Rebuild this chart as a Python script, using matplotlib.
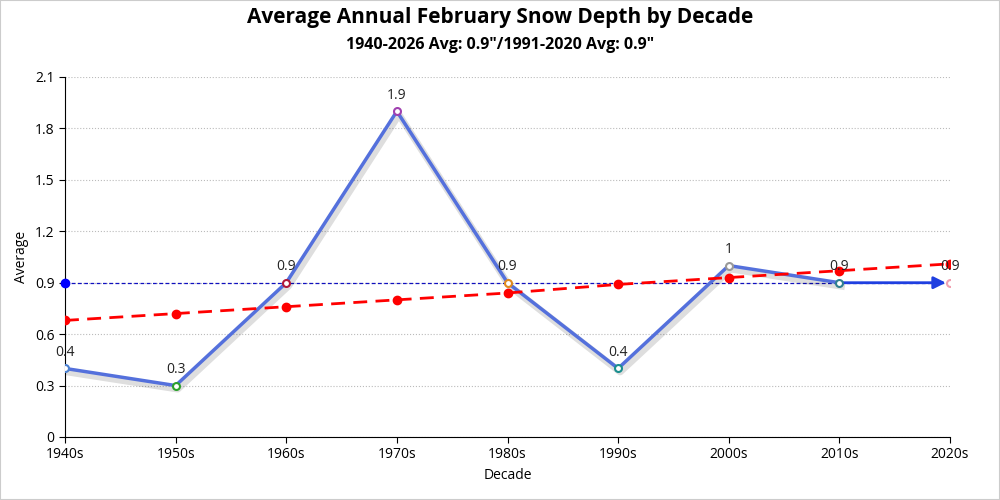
import matplotlib.pyplot as plt
import matplotlib.patheffects as pe

plt.rcParams['font.family'] = ['Open Sans', 'DejaVu Sans']

# dados
decadas = ['1940s', '1950s', '1960s', '1970s', '1980s', '1990s', '2000s', '2010s', '2020s']
media = [0.4, 0.3, 0.9, 1.9, 0.9, 0.4, 1.0, 0.9, 0.9]
tendencia = [0.68, 0.72, 0.76, 0.80, 0.84, 0.89, 0.93, 0.97, 1.01]
media_normal = 0.9
cores_pontos = ['#4a7fd0', '#2ca02c', '#b0173a', '#a040b0', '#e08a1e',
                '#1a8f8f', '#999999', '#2f7f8f', '#f0a0b0']
rotulos_y = [0, 0.3, 0.6, 0.9, 1.2, 1.5, 1.8, 2.1]

x = list(range(len(decadas)))

fig = plt.figure(figsize=(10, 5), dpi=100)
ax = fig.add_axes([0.065, 0.126, 0.885, 0.72])

sombra = [pe.SimpleLineShadow(offset=(1.5, -2.5), alpha=0.13, shadow_color='black', linewidth=5),
          pe.Normal()]

# linha principal (ate 2010s)
ax.plot(x[:-1], media[:-1], color='#5470dc', linewidth=2.5, zorder=4, path_effects=sombra)
# ultimo segmento com seta
ax.annotate('', xy=(x[-1], media[-1]), xytext=(x[-2], media[-2]),
            arrowprops=dict(arrowstyle='-|>', color='#1f3fe0', lw=2, mutation_scale=18,
                            shrinkA=0, shrinkB=3), zorder=4)

# pontos
for xi, yi, c in zip(x, media, cores_pontos):
    ax.plot(xi, yi, 'o', markersize=5, markerfacecolor='white', markeredgecolor=c,
            markeredgewidth=1.5, zorder=6)
    ax.text(xi, yi + 0.05, f'{yi:g}', ha='center', va='bottom', fontsize=10, color='#222222', zorder=7)

# tendencia
ax.plot(x, tendencia, color='red', linestyle=(0, (5, 3)), linewidth=2, marker='o',
        markersize=6, zorder=5)

# media normal
ax.axhline(media_normal, color='#1010c0', linestyle=(0, (3, 2)), linewidth=0.9, zorder=3)
ax.plot(0, media_normal, 'o', color='blue', markersize=6, clip_on=False, zorder=6)

ax.set_xlim(0, len(decadas) - 1)
ax.set_ylim(0, 2.1)
ax.set_xticks(x)
ax.set_xticklabels(decadas, fontsize=10)
ax.set_yticks(rotulos_y)
ax.set_yticklabels([f'{v:g}' for v in rotulos_y], fontsize=10)
ax.grid(True, axis='y', linestyle=':', color='#bbbbbb', linewidth=0.8)
ax.set_axisbelow(True)
for s in ['top', 'right']:
    ax.spines[s].set_visible(False)
ax.tick_params(length=4)
ax.set_xlabel('Decade', fontsize=10)
ax.set_ylabel('Average', fontsize=10)

fig.text(0.5, 0.965, 'Average Annual February Snow Depth by Decade', ha='center', va='center',
         fontsize=15, fontweight='bold')
fig.text(0.5, 0.91, '1940-2026 Avg: 0.9"/1991-2020 Avg: 0.9"', ha='center', va='center',
         fontsize=11.5, fontweight='bold')

fig.patches.append(plt.Rectangle((0, 0), 1, 1, transform=fig.transFigure, fill=False,
                                 edgecolor='#cccccc', linewidth=1.5))

plt.savefig('out.png', dpi=100)
